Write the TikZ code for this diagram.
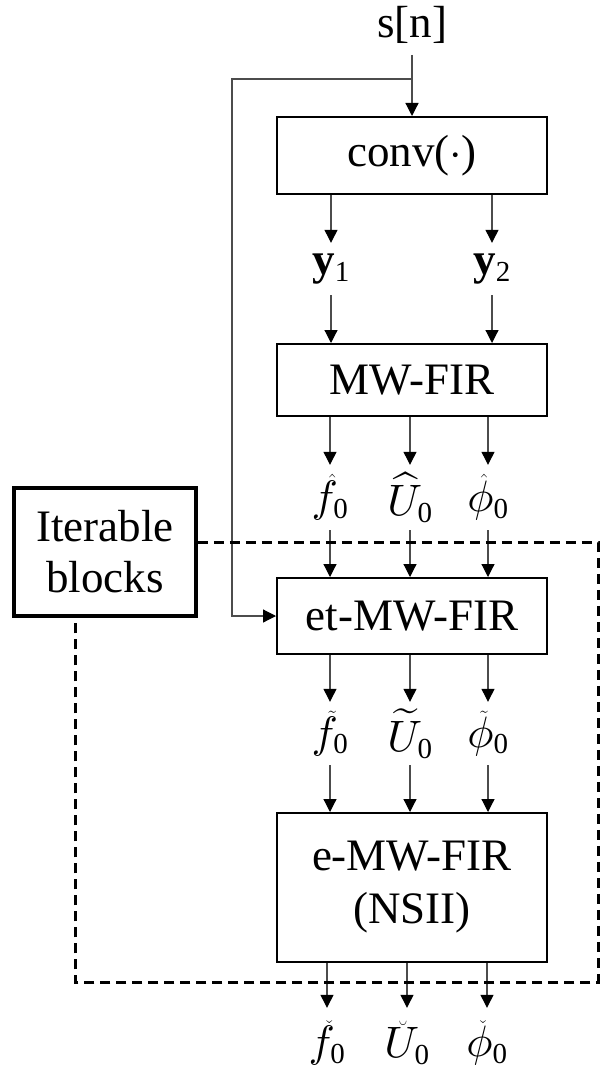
\documentclass[tikz,border=0pt]{standalone}
\usepackage{fontspec}
\setmainfont{Liberation Serif}
% scalable Computer Modern math fonts for the large labels
\DeclareFontShape{OML}{cmm}{m}{it}{<->cmmi10}{}
\DeclareFontShape{OMS}{cmsy}{m}{n}{<->cmsy10}{}
\DeclareFontShape{OMX}{cmex}{m}{n}{<->cmex10}{}
% subscript digits set at a fixed size
\newcommand\lowsub[1]{_{\mbox{\fontsize{29}{29}\selectfont #1}}}
\usetikzlibrary{arrows.meta,calc}
\tikzset{
  block/.style={draw, line width=2pt, minimum width=270pt, inner sep=0pt,
    align=center, font=\fontsize{45}{53}\selectfont},
  sig/.style={inner sep=0pt, font=\fontsize{44}{50}\selectfont},
  flow/.style={draw=black!70, line width=1.2pt,
    -{Triangle[length=13pt,width=13pt,color=black]}},
  groupline/.style={line width=3pt, dash pattern=on 10pt off 6pt},
}
\begin{document}
\begin{tikzpicture}[x=1pt,y=-1pt]
\useasboundingbox (0,0) rectangle (600,1070);

% input signal and first stage
\node[inner sep=0pt, font=\fontsize{45}{53}\selectfont] (sn) at (412,25) {s[n]};
\node[block, minimum height=77pt] (conv) at (412,155.5) {conv($\cdot$)};
\coordinate (br) at (412,79);
\draw[flow, shorten <=11pt] (sn) -- (conv);

% outputs of the convolution
\node[sig, minimum height=52pt, font=\fontsize{45}{50}\selectfont] (y1) at (331,269) {$\mathbf{y}\lowsub{1}$};
\node[sig, minimum height=52pt, font=\fontsize{45}{50}\selectfont] (y2) at (492,269) {$\mathbf{y}\lowsub{2}$};
\draw[flow] (conv.south -| y1) -- (y1);
\draw[flow] (conv.south -| y2) -- (y2);

% MW-FIR stage
\node[block, minimum height=72pt] (mw) at (412,380) {MW-FIR};
\draw[flow] (y1) -- (mw.north -| y1);
\draw[flow] (y2) -- (mw.north -| y2);

\node[sig, minimum height=65pt] (fh) at (330,497.5) {$\hat{f}\lowsub{0}$};
\node[sig, minimum height=65pt] (uh) at (410,497.5) {$\widehat{U}\lowsub{0}$};
\node[sig, minimum height=65pt] (ph) at (488,497.5) {$\hat{\phi}\lowsub{0}$};
\foreach \s in {fh,uh,ph} \draw[flow] (mw.south -| \s) -- (\s);

% et-MW-FIR stage, also fed by the input signal
\node[block, minimum height=76pt] (et) at (412,616) {et-MW-FIR};
\foreach \s in {fh,uh,ph} \draw[flow] (\s) -- (et.north -| \s);
\coordinate (fbtop) at (232,79);
\coordinate (fbbot) at (232,616);
\draw[flow] (br) -- (fbtop) -- (fbbot) -- (et.west);

\node[sig, minimum height=63pt] (ft) at (330,733.5) {$\tilde{f}\lowsub{0}$};
\node[sig, minimum height=63pt] (ut) at (410,733.5) {$\widetilde{U}\lowsub{0}$};
\node[sig, minimum height=63pt] (pt) at (488,733.5) {$\tilde{\phi}\lowsub{0}$};
\foreach \s in {ft,ut,pt} \draw[flow] (et.south -| \s) -- (\s);

% e-MW-FIR (NSII) stage
\node[block, minimum height=149pt] (emw) at (412,887.5) {e-MW-FIR\\(NSII)};
\foreach \s in {ft,ut,pt} \draw[flow] (\s) -- (emw.north -| \s);

\node[sig, minimum height=70pt] (fc) at (327,1043) {$\check{f}\lowsub{0}$};
\node[sig, minimum height=70pt] (uc) at (407,1043) {$\breve{U}\lowsub{0}$};
\node[sig, minimum height=70pt] (pc) at (487,1043) {$\check{\phi}\lowsub{0}$};
\foreach \s in {fc,uc,pc} \draw[flow] (emw.south -| \s) -- (\s);

% group of iterable blocks
\node[draw, line width=3.5pt, minimum width=182pt, minimum height=128pt,
  inner sep=0pt, align=center, font=\fontsize{45}{51}\selectfont]
  (iter) at (105,552) {Iterable\\blocks};
\coordinate (gtr) at (598,542);
\coordinate (gbr) at (598,982);
\coordinate (gbl) at (75,982);
\draw[groupline] ($(iter.east)+(0,-10)$) -- (gtr) -- (gbr) -- (gbl) -- (iter.south -| gbl);
\end{tikzpicture}
\end{document}
